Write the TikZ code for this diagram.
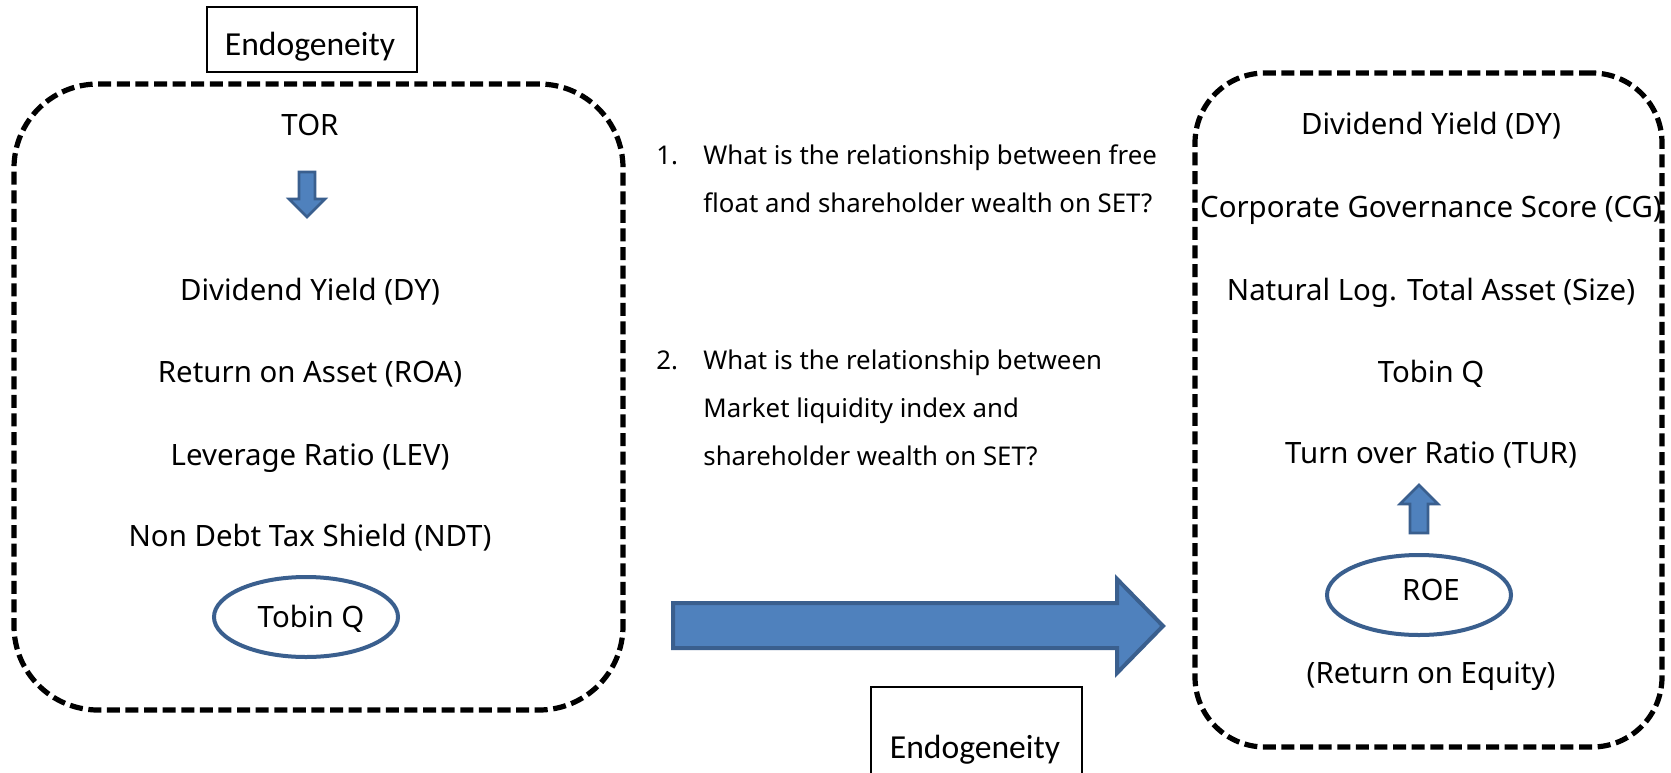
\documentclass[tikz,border=0pt]{standalone}
\usepackage{fontspec}
\setmainfont{Noto Sans}
\newfontfamily\calib{Carlito}
\usetikzlibrary{shapes.geometric}
\definecolor{arrfill}{HTML}{4F81BD}
\definecolor{arrline}{HTML}{3A5F8E}
\begin{document}
\begin{tikzpicture}[x=0.5pt,y=-0.5pt,
 dashbox/.style={draw, line width=2.6pt, dash pattern=on 6.5pt off 2.8pt, inner sep=0pt},
 endobox/.style={draw, line width=0.7pt, inner sep=0pt},
 endotxt/.style={anchor=base, inner sep=0pt, font=\calib\fontsize{16.8}{20}\selectfont},
 vtxt/.style={anchor=base, inner sep=0pt, font=\fontsize{14.7}{17}\selectfont},
 qtxt/.style={anchor=base west, inner sep=0pt, font=\fontsize{12.9}{15}\selectfont},
 oval/.style={ellipse, draw=arrline, line width=2pt, inner sep=0pt, minimum width=92pt, minimum height=40pt},
 blockarrow/.style={fill=arrfill, draw=arrline, line join=miter},
]
\clip (0,0) rectangle (1671,772);
\fill[white] (0,0) rectangle (1671,772);

% dashed group boxes
\node[dashbox, rounded corners=42pt, minimum width=304.5pt, minimum height=313pt] (L) at (318.5,397) {};
\node[dashbox, rounded corners=35pt, minimum width=233.5pt, minimum height=337pt] (R) at (1428.5,410) {};

% Endogeneity boxes
\node[endobox, minimum width=105pt, minimum height=32.5pt] (E1) at (312,39.5) {};
\node[endotxt] (E1t) at (310,55) {Endogeneity};
\node[endobox, minimum width=105.5pt, minimum height=45pt] (E2) at (976.5,732) {};
\node[endotxt] (E2t) at (975,758) {Endogeneity};

% left content
\node[vtxt] (tor) at (310,135) {TOR};
\draw[blockarrow, line width=1.3pt] (299,172) -- (315,172) -- (315,199) -- (325,199) -- (307,217) -- (289,199) -- (299,199) -- cycle;
\node[vtxt] (l1) at (310,300) {Dividend Yield (DY)};
\node[vtxt] (l2) at (310,382) {Return on Asset (ROA)};
\node[vtxt] (l3) at (310,465) {Leverage Ratio (LEV)};
\node[vtxt] (l4) at (310,546) {Non Debt Tax Shield (NDT)};
\node[oval] (tq) at (306,617) {};
\node[vtxt] (tqt) at (311,627) {Tobin Q};

% questions
\node[qtxt] (q1n) at (656,164) {1.};
\node[qtxt] (q1a) at (703,164) {What is the relationship between free};
\node[qtxt] (q1b) at (703,212) {float and shareholder wealth on SET?};
\node[qtxt] (q2n) at (656,369) {2.};
\node[qtxt] (q2a) at (703,369) {What is the relationship between};
\node[qtxt] (q2b) at (703,417) {Market liquidity index and};
\node[qtxt] (q2c) at (703,465) {shareholder wealth on SET?};

% big arrow
\draw[blockarrow, line width=2pt] (673,603) -- (1117,603) -- (1117,579) -- (1163,626) -- (1117,673) -- (1117,648) -- (673,648) -- cycle;

% right content
\node[vtxt] (r1) at (1431,134) {Dividend Yield (DY)};
\node[vtxt] (r2) at (1431,217) {Corporate Governance Score (CG)};
\node[vtxt] (r3) at (1431,300) {Natural Log. Total Asset (Size)};
\node[vtxt] (r4) at (1431,382) {Tobin Q};
\node[vtxt] (r5) at (1431,463) {Turn over Ratio (TUR)};
\draw[blockarrow, line width=1.3pt] (1410,533) -- (1428,533) -- (1428,504) -- (1438,504) -- (1419,485) -- (1400,504) -- (1410,504) -- cycle;
\node[oval] (roe) at (1419,595) {};
\node[vtxt] (roet) at (1431,600) {ROE};
\node[vtxt] (r6) at (1431,683) {(Return on Equity)};
\end{tikzpicture}
\end{document}
